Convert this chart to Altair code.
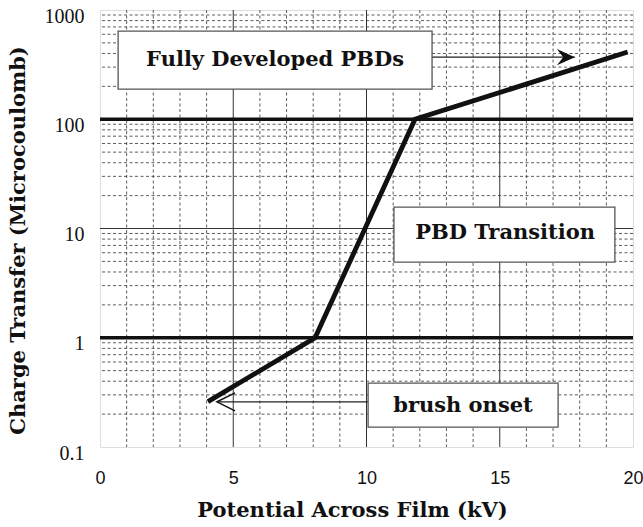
import altair as alt
import pandas as pd

# Main curve (kV, microcoulomb)
volts = [4.05, 8.07, 11.82, 19.8]
charge = [0.26, 1.0, 100.0, 412.0]

# Thick reference levels
level_lines = [1.0, 100.0]

# Grid
x_major = [5, 10, 15]
x_minor = [1, 2, 3, 4, 6, 7, 8, 9, 11, 12, 13, 14, 16, 17, 18, 19]
y_major = [10]
y_minor = [0.2, 0.3, 0.4, 0.5, 0.6, 0.7, 0.8, 0.9,
           2, 3, 4, 5, 6, 7, 8, 9,
           20, 30, 40, 50, 60, 70, 80, 90,
           200, 300, 400, 500, 600, 700, 800, 900]

x_ticks = [0, 5, 10, 15, 20]
y_ticks = [0.1, 1, 10, 100, 1000]

# Annotation boxes
box_labels = ["Fully Developed PBDs", "PBD Transition", "brush onset"]
box_x1 = [0.68, 11.03, 10.06]
box_x2 = [12.46, 19.32, 17.19]
box_y1 = [189.0, 4.93, 0.152]
box_y2 = [642.0, 15.7, 0.385]
label_x = [6.57, 15.2, 13.62]
label_y = [348.0, 9.1, 0.237]

# Thin arrows (tail -> tip)
arrow_tail = [12.46, 10.06]
arrow_tip = [17.82, 4.39]
arrow_y = [370.0, 0.259]
arrow_angle = [0, 180]

xs = alt.Scale(domain=[0, 20], nice=False, zero=False)
ys = alt.Scale(type="log", domain=[0.1, 1000], nice=False)

SERIF_B = "DejaVu Serif"

YAX = alt.Axis(
    values=y_ticks, title="Charge Transfer (Microcoulomb)",
    labelExpr="format(datum.value, '~g')",
    grid=False, ticks=False, tickSize=0, domain=False, labelFlush=False,
    labelFont="Liberation Serif", labelFontSize=20, labelColor="#111",
    labelPadding=16, labelOffset=6, labelBaseline="middle",
    titleFont=SERIF_B, titleFontWeight="bold", titleFontSize=21, titleColor="#111",
    titleX=-82, titleY=230, titleAngle=-90, titleBaseline="middle", titleAlign="center",
)
XAX = alt.Axis(
    values=x_ticks, title="Potential Across Film (kV)",
    grid=False, ticks=False, tickSize=0, domain=False, labelFlush=False,
    labelFont="Liberation Sans", labelFontSize=18, labelColor="#111",
    labelPadding=22,
    titleFont=SERIF_B, titleFontWeight="bold", titleFontSize=21, titleColor="#111",
    titleX=252, titleY=63, titleBaseline="middle", titleAlign="center",
)

ygrid_minor = alt.Chart(pd.DataFrame({"y": y_minor})).mark_rule(
    color="#333", strokeWidth=0.8, strokeDash=[3, 2.5]
).encode(y=alt.Y("y:Q", scale=ys, axis=YAX))

xgrid_minor = alt.Chart(pd.DataFrame({"x": x_minor})).mark_rule(
    color="#333", strokeWidth=0.8, strokeDash=[3, 2.5]
).encode(x=alt.X("x:Q", scale=xs, axis=XAX))

xgrid_major = alt.Chart(pd.DataFrame({"x": x_major})).mark_rule(
    color="#333", strokeWidth=1
).encode(x=alt.X("x:Q", scale=xs, axis=XAX))

ygrid_major = alt.Chart(pd.DataFrame({"y": y_major})).mark_rule(
    color="#333", strokeWidth=1
).encode(y=alt.Y("y:Q", scale=ys, axis=YAX))

levels = alt.Chart(pd.DataFrame({"y": level_lines})).mark_rule(
    color="#111", strokeWidth=3.5
).encode(y=alt.Y("y:Q", scale=ys, axis=YAX))

curve = alt.Chart(pd.DataFrame({"x": volts, "y": charge})).mark_line(
    color="#111", strokeWidth=4.8, strokeJoin="miter"
).encode(
    x=alt.X("x:Q", scale=xs, axis=XAX),
    y=alt.Y("y:Q", scale=ys, axis=YAX),
)

arrows_df = pd.DataFrame({"x": arrow_tail, "x2": arrow_tip, "y": arrow_y, "a": arrow_angle})

arrow_lines = alt.Chart(arrows_df).mark_rule(color="#222", strokeWidth=1.2).encode(
    x=alt.X("x:Q", scale=xs, axis=XAX),
    x2="x2:Q",
    y=alt.Y("y:Q", scale=ys, axis=YAX),
)

heads_df = pd.DataFrame({"x": arrow_tip, "y": arrow_y, "a": arrow_angle})

right_head = alt.Chart(heads_df.iloc[[0]]).mark_point(
    shape="M0,0 L-1,-0.45 L-0.65,0 L-1,0.45 Z", filled=True, color="#111",
    size=1296, opacity=1, strokeWidth=0
).encode(
    x=alt.X("x:Q", scale=xs, axis=XAX),
    y=alt.Y("y:Q", scale=ys, axis=YAX),
    angle=alt.Angle("a:Q", scale=None),
)

left_head = alt.Chart(heads_df.iloc[[1]]).mark_point(
    shape="M-1,-0.5 L0,0 L-1,0.5", filled=False, color="#111",
    size=1296, opacity=1, strokeWidth=1.6
).encode(
    x=alt.X("x:Q", scale=xs, axis=XAX),
    y=alt.Y("y:Q", scale=ys, axis=YAX),
    angle=alt.Angle("a:Q", scale=None),
)

boxes_df = pd.DataFrame({
    "label": box_labels, "x": box_x1, "x2": box_x2, "y": box_y1, "y2": box_y2,
    "lx": label_x, "ly": label_y,
})

boxes = alt.Chart(boxes_df).mark_rect(
    fill="white", stroke="#555", strokeWidth=1.3
).encode(
    x=alt.X("x:Q", scale=xs, axis=XAX), x2="x2:Q",
    y=alt.Y("y:Q", scale=ys, axis=YAX), y2="y2:Q",
)

labels = alt.Chart(boxes_df).mark_text(
    font=SERIF_B, fontWeight="bold", fontSize=21, color="#111",
    align="center", baseline="middle"
).encode(
    x=alt.X("lx:Q", scale=xs, axis=XAX),
    y=alt.Y("ly:Q", scale=ys, axis=YAX),
    text="label:N",
)

chart = alt.layer(
    ygrid_minor, xgrid_minor, xgrid_major, ygrid_major, levels, curve,
    arrow_lines, right_head, left_head, boxes, labels
).properties(
    width=533, height=437,
    padding={"left": 100, "top": 10, "right": 10, "bottom": 80},
    autosize="none",
).configure_view(stroke="#222", strokeWidth=1.2).configure(background="white")

chart.save("out.html", embed_options={"renderer": "svg", "actions": False})
